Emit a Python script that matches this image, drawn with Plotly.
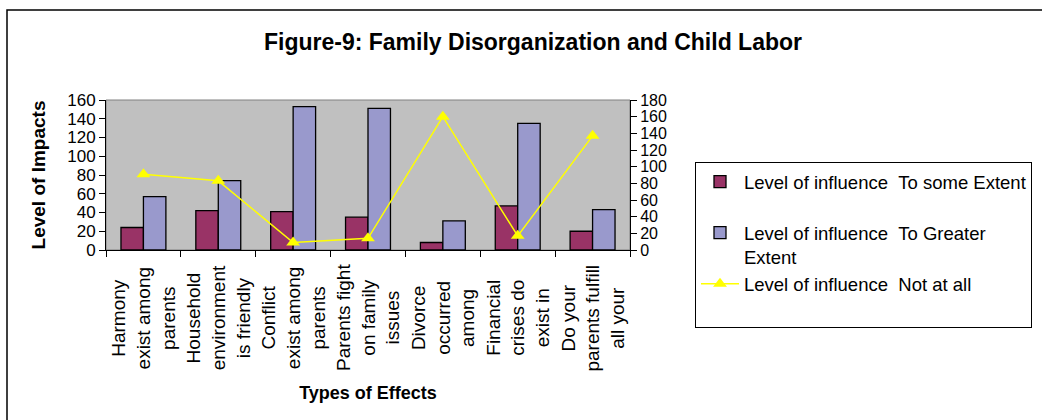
import plotly.graph_objects as go

categories = [
    "Harmony<br>exist among<br>parents",
    "Household<br>environment<br>is friendly",
    "Conflict<br>exist among<br>parents",
    "Parents fight<br>on family<br>issues",
    "Divorce<br>occurred<br>among",
    "Financial<br>crises do<br>exist in",
    "Do your<br>parents fulfill<br>all your",
]
some_extent = [24, 42, 41, 35, 8, 47, 20]
greater_extent = [57, 74, 153, 151, 31, 135, 43]
not_at_all = [91, 83, 9, 14, 160, 17, 137]

series_names = [
    "Level of influence&nbsp;&nbsp;To some Extent<br>&nbsp;",
    "Level of influence&nbsp;&nbsp;To Greater<br>Extent",
    "Level of influence&nbsp;&nbsp;Not at all<br>&nbsp;",
]
left_ticks = list(range(0, 161, 20))
right_ticks = list(range(0, 181, 20))

FONT = "Arial, Liberation Sans, sans-serif"
W, H = 1042, 420
L, R, T, B = 106, 630, 100, 250


def px(xp):
    return (xp - L) / (R - L)


def py(yp):
    return (B - yp) / (B - T)


fig = go.Figure()
fig.add_trace(go.Bar(
    x=categories, y=some_extent, name=series_names[0],
    marker=dict(color="#993366", line=dict(color="black", width=1.3)),
    legendgroup="a",
))
fig.add_trace(go.Bar(
    x=categories, y=greater_extent, name=series_names[1],
    marker=dict(color="#9999CC", line=dict(color="black", width=1.3)),
    legendgroup="b",
))
fig.add_trace(go.Scatter(
    x=categories, y=not_at_all, name=series_names[2], yaxis="y2",
    mode="lines+markers",
    line=dict(color="#FFFF00", width=1.5),
    marker=dict(symbol="triangle-up", size=12, color="#FFFF00"),
    legendgroup="c",
))

for c in categories:
    fig.add_annotation(
        x=c, xref="x", y=py(318), yref="paper",
        text=c, textangle=-90, showarrow=False,
        xanchor="center", yanchor="middle", align="center",
        font=dict(family=FONT, size=19, color="black"),
    )

# outer chart frame
fig.add_shape(type="rect", xref="paper", yref="paper",
              x0=px(7), x1=px(1060), y0=py(440), y1=py(10),
              line=dict(color="black", width=1.5), layer="below")
# plot area border
fig.add_shape(type="rect", xref="paper", yref="paper",
              x0=0, x1=1, y0=0, y1=1,
              line=dict(color="#808080", width=1), layer="below")

fig.update_layout(
    width=W, height=H,
    margin=dict(l=L, r=W - R, t=T, b=H - B, autoexpand=False),
    paper_bgcolor="white",
    plot_bgcolor="#C0C0C0",
    font=dict(family=FONT, color="black"),
    barmode="group", bargap=0.4, bargroupgap=0,
    showlegend=True,
    title=dict(
        text="Figure-9: Family Disorganization and Child Labor",
        x=533 / W, xanchor="center", xref="container",
        y=1 - 42 / H, yanchor="middle", yref="container",
        font=dict(family=FONT, size=23, color="black", weight="bold"),
    ),
    xaxis=dict(
        type="category", categoryarray=categories, range=[-0.5, 6.5],
        showticklabels=False, tickson="boundaries",
        ticks="outside", ticklen=6, tickcolor="black", tickwidth=1,
        showline=True, linecolor="black", linewidth=1,
        showgrid=False, zeroline=False,
        title=dict(text="Types of Effects", standoff=136,
                   font=dict(family=FONT, size=18, weight="bold")),
    ),
    xaxis2=dict(
        overlaying="x", anchor="y", range=[-0.5, 6.5],
        tickvals=[i - 0.5 for i in range(8)],
        ticks="inside", ticklen=6, tickcolor="black", tickwidth=1,
        showticklabels=False, showgrid=False, zeroline=False, showline=False,
    ),
    yaxis=dict(
        range=[0, 160], tickvals=left_ticks,
        ticks="outside", ticklen=6, tickcolor="black",
        showline=True, linecolor="black", linewidth=1,
        showgrid=False, zeroline=False,
        tickfont=dict(family=FONT, size=17),
        title=dict(text="Level of Impacts", standoff=16,
                   font=dict(family=FONT, size=19, weight="bold")),
    ),
    yaxis2=dict(
        overlaying="y", side="right", anchor="x",
        range=[0, 180], tickvals=right_ticks,
        ticks="outside", ticklen=6, tickcolor="black",
        showline=True, linecolor="black", linewidth=1,
        showgrid=False, zeroline=False,
        tickfont=dict(family=FONT, size=16),
    ),
    legend=dict(
        x=px(695), y=py(328), xanchor="left", yanchor="bottom",
        xref="paper", yref="paper",
        bgcolor="white", bordercolor="black", borderwidth=1,
        font=dict(family=FONT, size=18.5, color="black"),
        traceorder="grouped", tracegroupgap=0,
        itemwidth=38, valign="top",
    ),
)

fig.write_html("out.html")
